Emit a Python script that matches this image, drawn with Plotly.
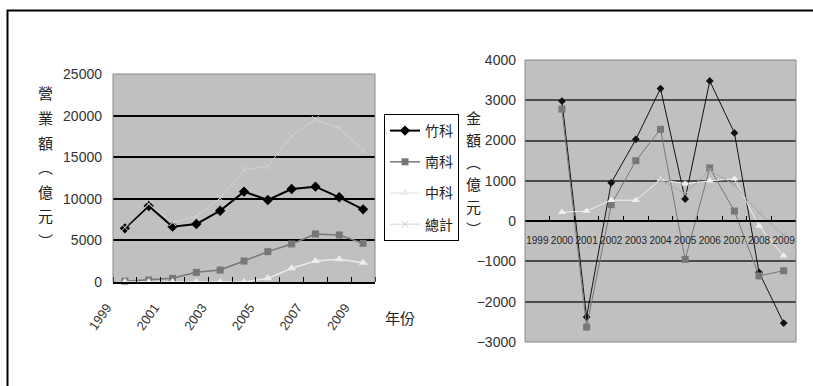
import plotly.graph_objects as go

W, H = 813, 386

# ---- data -------------------------------------------------------------
years = list(range(1999, 2010))
park_names = ["竹科", "南科", "中科", "總計"]

# annual revenue (億元)
rev_hsinchu = [6450, 9140, 6650, 6970, 8570, 10860, 9860, 11180, 11460, 10180, 8730]
rev_tainan = [100, 240, 440, 1160, 1440, 2520, 3650, 4570, 5770, 5650, 4650]
rev_taichung = [0, 0, 0, 0, 0, 0, 440, 1650, 2520, 2720, 2320]
rev_total = [6550, 9380, 7130, 7930, 10060, 13460, 13940, 17550, 19550, 18470, 15870]

# yearly change (億元)
chg_hsinchu = [None, 2980, -2380, 950, 2030, 3290, 550, 3480, 2190, -1270, -2530]
chg_tainan = [None, 2780, -2630, 410, 1500, 2280, -950, 1320, 250, -1360, -1230]
chg_taichung = [None, 220, 250, 520, 520, 1030, 930, 1000, 1050, -120, -860]
chg_total = [None, None, None, None, None, 1030, 680, 1270, 900, 215, -350]

left_ticks = [1999, 2001, 2003, 2005, 2007, 2009]


def fx(px):
    return px / W


def fy(py):
    return 1 - py / H


# plot-area rectangles (pixels)
L = dict(x0=113, x1=375, y0=74, y1=282)
R = dict(x0=525, x1=796, y0=60, y1=342)
r_min, r_max = -3000, 4000

fig = go.Figure()

left_style = [
    dict(line=dict(color="#000000", width=2), marker=dict(symbol="diamond", size=8, color="#000000")),
    dict(line=dict(color="#777777", width=1.5), marker=dict(symbol="square", size=7, color="#777777")),
    dict(line=dict(color="#ececec", width=1.5), marker=dict(symbol="triangle-up", size=8, color="#ececec")),
    dict(line=dict(color="#d2d2d2", width=1),
         marker=dict(symbol="x-thin-open", size=7, color="#d2d2d2", line=dict(width=1, color="#d2d2d2"))),
]
right_style = [
    dict(line=dict(color="#111111", width=1), marker=dict(symbol="diamond", size=6, color="#111111")),
    dict(line=dict(color="#777777", width=1), marker=dict(symbol="square", size=7, color="#777777")),
    dict(line=dict(color="#f0f0f0", width=1), marker=dict(symbol="triangle-up", size=7, color="#f0f0f0")),
    dict(line=dict(color="#a8a8a8", width=1),
         marker=dict(symbol="x-thin-open", size=5, color="#a8a8a8", line=dict(width=1, color="#a8a8a8"))),
]

rev_series = [rev_hsinchu, rev_tainan, rev_taichung, rev_total]
chg_series = [chg_hsinchu, chg_tainan, chg_taichung, chg_total]

for name, vals, st in zip(park_names, rev_series, left_style):
    fig.add_trace(go.Scatter(x=years, y=vals, name=name, mode="lines+markers",
                             legendgroup=name, cliponaxis=False,
                             xaxis="x", yaxis="y", **st))

for name, vals, st in zip(park_names, chg_series, right_style):
    fig.add_trace(go.Scatter(x=years, y=vals, name=name, mode="lines+markers",
                             showlegend=False, cliponaxis=False,
                             xaxis="x2", yaxis="y2", **st))

boundaries = [1998.5 + i for i in range(12)]
zero_pos = fy(R["y1"] - (0 - r_min) / (r_max - r_min) * (R["y1"] - R["y0"]))

fig.update_layout(
    width=W, height=H,
    margin=dict(l=0, r=0, t=0, b=0, autoexpand=False),
    paper_bgcolor="white",
    plot_bgcolor="#c0c0c0",
    font=dict(family="Liberation Sans, Arial, sans-serif", color="#333333", size=14),
    xaxis=dict(
        domain=[fx(L["x0"]), fx(L["x1"])], anchor="y", automargin=False,
        range=[1998.5, 2009.5], tickmode="array", tickvals=left_ticks,
        ticktext=[str(t) for t in left_ticks], tickangle=-55,
        ticks="", showgrid=False, zeroline=False,
        showline=True, linecolor="#000000", linewidth=1.5,
        tickfont=dict(size=13, color="#333333"),
        ticklabelstandoff=11, ticklabelshift=-18,
        minor=dict(tickmode="array", tickvals=boundaries, ticks="inside",
                   ticklen=5, tickcolor="#000000", showgrid=False),
    ),
    yaxis=dict(
        domain=[fy(L["y1"]), fy(L["y0"])], anchor="x", automargin=False,
        range=[0, 25000], dtick=5000, tickformat="d",
        showgrid=True, gridcolor="#000000", gridwidth=1.5, zeroline=False,
        showline=False,
        ticks="", tickfont=dict(size=14, color="#333333"), ticklabelstandoff=10,
    ),
    xaxis2=dict(
        domain=[fx(R["x0"]), fx(R["x1"])], anchor="free", position=zero_pos, automargin=False,
        range=[1998.5, 2009.5], tickmode="array", tickvals=years,
        ticktext=[str(y) for y in years], tickangle=0,
        ticks="", showgrid=False, zeroline=False,
        showline=True, linecolor="#000000", linewidth=1.5,
        tickfont=dict(size=10, color="#222222", family="Liberation Sans, Arial, sans-serif"),
        ticklabelstandoff=10,
        minor=dict(tickmode="array", tickvals=boundaries[1:-1], ticks="inside",
                   ticklen=4, tickcolor="#000000", showgrid=False),
    ),
    yaxis2=dict(
        domain=[fy(R["y1"]), fy(R["y0"])], anchor="x2", automargin=False,
        range=[r_min, r_max], dtick=1000, tickformat="d",
        showgrid=True, gridcolor="#4a4a4a", gridwidth=2, zeroline=False,
        showline=False,
        ticks="", tickfont=dict(size=14, color="#333333"), ticklabelstandoff=8,
    ),
    legend=dict(
        x=fx(384), y=fy(114), xanchor="left", yanchor="top",
        bgcolor="white", bordercolor="#000000", borderwidth=1,
        font=dict(family="Noto Sans CJK TC, sans-serif", size=14, color="#222222"),
        traceorder="grouped", tracegroupgap=10, itemwidth=30,
    ),
)

# plot-area borders (gray edges; the category axes keep their own black line)
border = dict(color="#888888", width=1)
for px0, px1, py0, py1 in ((L["x0"], L["x0"], L["y0"], L["y1"]),
                           (L["x1"], L["x1"], L["y0"], L["y1"]),
                           (L["x0"], L["x1"], L["y0"], L["y0"]),
                           (R["x0"], R["x0"], R["y0"], R["y1"]),
                           (R["x1"], R["x1"], R["y0"], R["y1"]),
                           (R["x0"], R["x1"], R["y0"], R["y0"]),
                           (R["x0"], R["x1"], R["y1"], R["y1"])):
    fig.add_shape(type="line", xref="paper", yref="paper",
                  x0=fx(px0), x1=fx(px1), y0=fy(py0), y1=fy(py1), line=border)

# outer frame
fig.add_shape(type="rect", xref="paper", yref="paper",
              x0=fx(7.5), x1=1.05, y0=fy(10.5), y1=-0.05,
              line=dict(color="#000000", width=2))

cjk = dict(family="Noto Sans CJK TC, sans-serif", size=15, color="#222222")

# vertical axis titles
left_title = ["營", "業", "額", "︵", "億", "元", "︶"]
for i, ch in enumerate(left_title):
    fig.add_annotation(text=ch, xref="paper", yref="paper", x=fx(45), y=fy(93 + 24.5 * i),
                       showarrow=False, font=cjk, xanchor="center", yanchor="middle")

right_title = ["金", "額", "︵", "億", "元", "︶"]
for i, ch in enumerate(right_title):
    fig.add_annotation(text=ch, xref="paper", yref="paper", x=fx(473), y=fy(118 + 22 * i),
                       showarrow=False, font=cjk, xanchor="center", yanchor="middle")

fig.add_annotation(text="年份", xref="paper", yref="paper", x=fx(400), y=fy(317),
                   showarrow=False, font=cjk, xanchor="center", yanchor="middle")

fig.write_html("out.html")
